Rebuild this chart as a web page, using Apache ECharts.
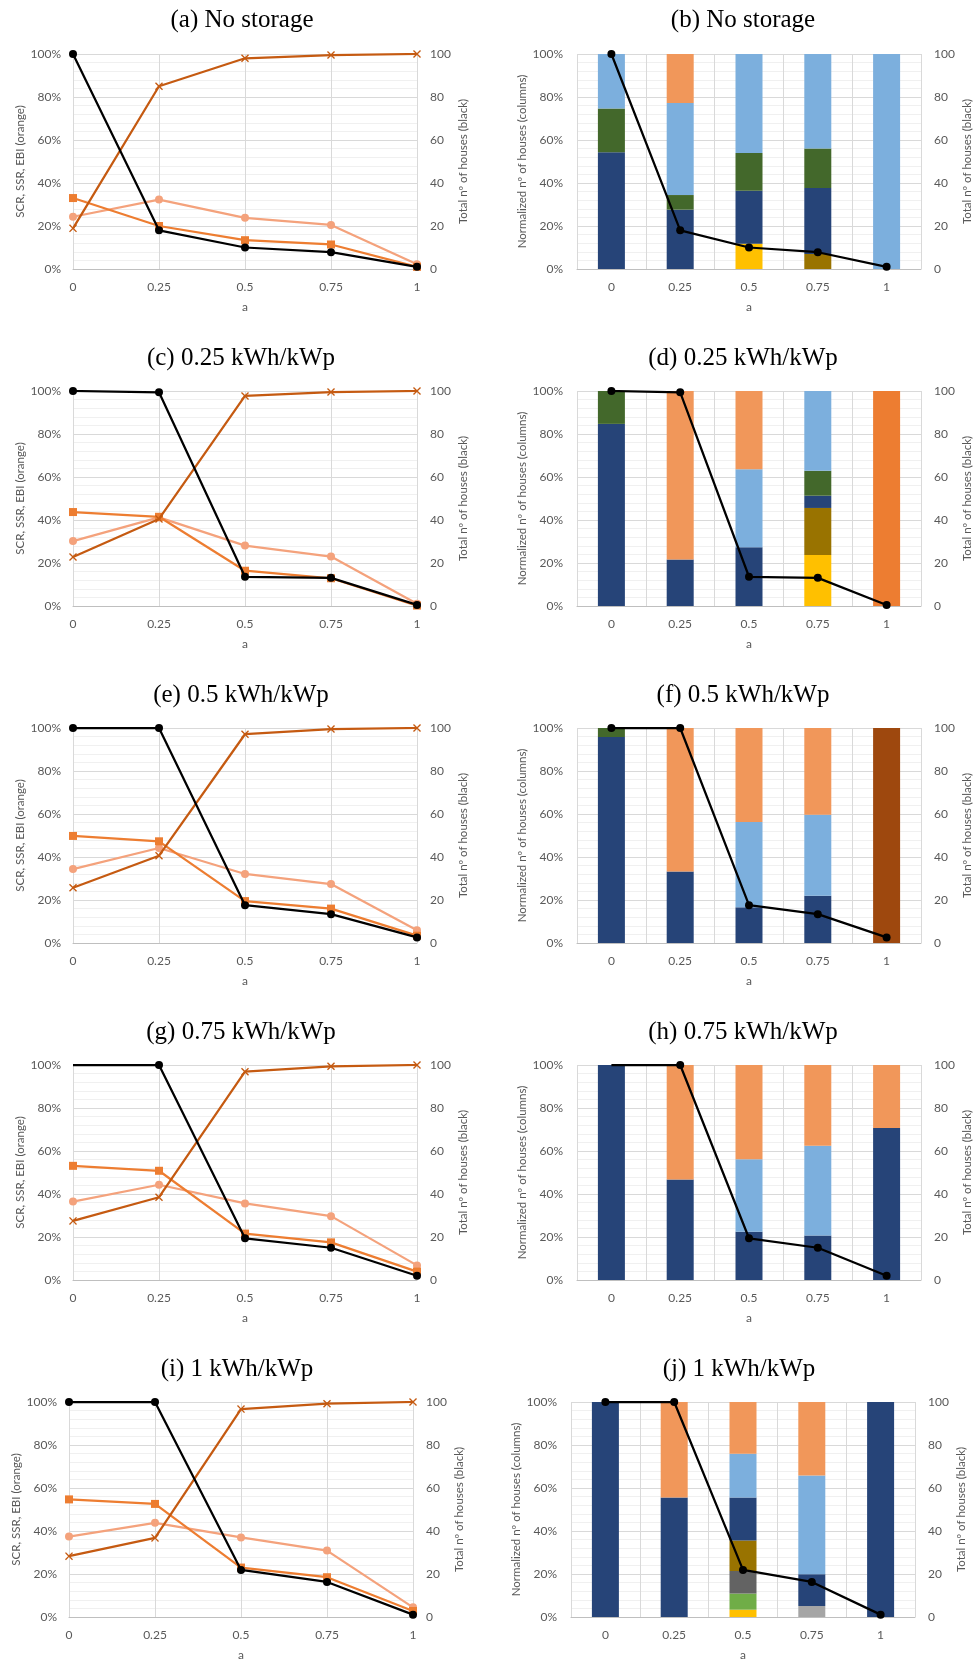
<!DOCTYPE html>
<html><head><meta charset="utf-8">
<script src="https://cdn.jsdelivr.net/npm/echarts@6/dist/echarts.min.js"></script>
<style>html,body{margin:0;padding:0;background:#fff}#c{width:975px;height:1662px}</style>
</head><body><div id="c"></div><script>
// ---------- DATA ----------
const categories = ['0', '0.25', '0.5', '0.75', '1'];
const titlesLeft = ['(a) No storage', '(c) 0.25 kWh/kWp', '(e) 0.5 kWh/kWp', '(g) 0.75 kWh/kWp', '(i) 1 kWh/kWp'];
const titlesRight = ['(b) No storage', '(d) 0.25 kWh/kWp', '(f) 0.5 kWh/kWp', '(h) 0.75 kWh/kWp', '(j) 1 kWh/kWp'];

// Total nº of houses (black line), per storage level
const housesNone = [100, 18, 10, 7.8, 1];
const houses025 = [100, 99.4, 13.6, 13.1, 0.5];
const houses05 = [100, 100, 17.6, 13.4, 2.6];
const houses075 = [100, 100, 19.4, 15, 2];
const houses1 = [100, 100, 21.9, 16.3, 1.1];

// SCR (square markers), %
const scrNone = [33, 20, 13.4, 11.4, 1];
const scr025 = [43.7, 41.5, 16.4, 12.9, 0.2];
const scr05 = [49.8, 47.3, 19.5, 16, 3.4];
const scr075 = [53.1, 50.8, 21.6, 17.5, 3.9];
const scr1 = [54.7, 52.6, 23, 18.5, 2.8];

// SSR (light circle markers), %
const ssrNone = [24.3, 32.3, 23.8, 20.5, 2.2];
const ssr025 = [30.2, 41.2, 28.1, 23, 1];
const ssr05 = [34.4, 44.2, 32.1, 27.4, 5.9];
const ssr075 = [36.5, 44.3, 35.6, 29.7, 6.8];
const ssr1 = [37.4, 43.8, 37, 30.9, 4.5];

// EBI (cross markers), %
const ebiNone = [18.9, 85, 98, 99.5, 100];
const ebi025 = [22.8, 40.5, 97.7, 99.5, 100];
const ebi05 = [25.7, 40.6, 97.1, 99.5, 100];
const ebi075 = [27.5, 38.5, 96.9, 99.4, 100];
const ebi1 = [28.3, 36.8, 96.7, 99.2, 100];

// Normalized nº of houses (stacked columns), % per group
const zeros = [0, 0, 0, 0, 0];
// (b) No storage
const bYellow = [0, 0, 11.8, 0, 0];
const bBrown = [0, 0, 0, 7, 0];
const bNavy = [54.3, 27.6, 24.6, 30.7, 0];
const bDarkGreen = [20.4, 6.8, 17.6, 18.3, 0];
const bLightBlue = [25.3, 42.8, 46, 44, 100];
const bLightOrange = [0, 22.8, 0, 0, 0];
// (d) 0.25
const dYellow = [0, 0, 0, 23.7, 0];
const dBrown = [0, 0, 0, 21.9, 0];
const dNavy = [84.7, 21.6, 27.3, 5.7, 0];
const dDarkGreen = [15.3, 0, 0, 11.6, 0];
const dLightBlue = [0, 0, 36.3, 37.1, 0];
const dLightOrange = [0, 78.4, 36.4, 0, 0];
const dOrange = [0, 0, 0, 0, 100];
// (f) 0.5
const fNavy = [95.8, 33.2, 16.6, 22, 0];
const fDarkGreen = [4.2, 0, 0, 0, 0];
const fLightBlue = [0, 0, 39.7, 37.7, 0];
const fLightOrange = [0, 66.8, 43.7, 40.3, 0];
const fRust = [0, 0, 0, 0, 100];
// (h) 0.75
const hNavy = [100, 46.7, 22.4, 20.7, 70.7];
const hLightBlue = [0, 0, 33.8, 41.7, 0];
const hLightOrange = [0, 53.3, 43.8, 37.6, 29.3];
// (j) 1
const jLightGray = [0, 0, 0, 5.1, 0];
const jYellow = [0, 0, 3.4, 0, 0];
const jGreen = [0, 0, 7.5, 0, 0];
const jDarkGray = [0, 0, 10.5, 0, 0];
const jBrown = [0, 0, 14.2, 0, 0];
const jNavy = [100, 55.6, 20, 14.8, 100];
const jLightBlue = [0, 0, 20.3, 45.9, 0];
const jLightOrange = [0, 44.4, 24.1, 34.2, 0];

// ---------- ASSEMBLY ----------
const groupNames = ['Group 1','Group 2','Group 3','Group 4','Group 5','Group 6','Group 7','Group 8','Group 9','Group 10','Group 11'];
const groupColors = ['#A5A5A5','#FFC000','#70AD47','#636363','#997300','#264478','#43682B','#7CAFDD','#F1975A','#ED7D31','#9E480E'];
// stacks bottom->top in group order
const barPanels = [
  [zeros, bYellow, zeros, zeros, bBrown, bNavy, bDarkGreen, bLightBlue, bLightOrange, zeros, zeros],
  [zeros, dYellow, zeros, zeros, dBrown, dNavy, dDarkGreen, dLightBlue, dLightOrange, dOrange, zeros],
  [zeros, zeros, zeros, zeros, zeros, fNavy, fDarkGreen, fLightBlue, fLightOrange, zeros, fRust],
  [zeros, zeros, zeros, zeros, zeros, hNavy, zeros, hLightBlue, hLightOrange, zeros, zeros],
  [jLightGray, jYellow, jGreen, jDarkGray, jBrown, jNavy, zeros, jLightBlue, jLightOrange, zeros, zeros]
];
const housesAll = [housesNone, houses025, houses05, houses075, houses1];
const scrAll = [scrNone, scr025, scr05, scr075, scr1];
const ssrAll = [ssrNone, ssr025, ssr05, ssr075, ssr1];
const ebiAll = [ebiNone, ebi025, ebi05, ebi075, ebi1];
// in the 0.75 kWh/kWp panels the first black marker is not drawn
const hideFirstMarker = [false, false, false, true, false];

const FONT = 'Lato';
const LBL = '#595959';
const leftLayout = [[73,54],[73,391],[73,728],[73,1065],[69,1402]];
const rightLayout = [[577,54],[577,391],[577,728],[577,1065],[571,1402]];
const titleLeftPos = [[242,20],[241,358],[241,695],[241,1032],[237,1369]];
const titleRightPos = [[743,20],[743,358],[743,695],[743,1032],[739,1369]];
const W = 344, H = 215;

const grids = [], xAxes = [], yAxes = [], series = [], graphics = [];
const crossPath = 'path://M0,1.2L1.2,0L5,3.8L8.8,0L10,1.2L6.2,5L10,8.8L8.8,10L5,6.2L1.2,10L0,8.8L3.8,5Z';

function addPanel(pos, isBar, leftName, lblMargin, nameGapL) {
  const gi = grids.length;
  grids.push({left: pos[0], top: pos[1], width: W, height: H, containLabel: false});
  xAxes.push({
    gridIndex: gi, type: 'category', data: categories, boundaryGap: isBar,
    axisLine: {lineStyle: {color: '#BFBFBF', width: 1}}, axisTick: {show: false},
    axisLabel: {color: LBL, fontFamily: FONT, fontSize: 12, margin: 12},
    splitLine: {show: true, lineStyle: {color: '#D9D9D9', width: 1}},
    name: 'a', nameLocation: 'middle', nameGap: 32,
    nameTextStyle: {color: LBL, fontFamily: FONT, fontSize: 12}
  });
  yAxes.push({
    gridIndex: gi, type: 'value', min: 0, max: 100, interval: 20, position: 'left',
    axisLine: {show: false}, axisTick: {show: false},
    axisLabel: {color: LBL, fontFamily: FONT, fontSize: 12, margin: lblMargin, formatter: '{value}%'},
    splitLine: {show: true, lineStyle: {color: '#D9D9D9', width: 1}},
    minorTick: {show: false, splitNumber: 5},
    minorSplitLine: {show: true, lineStyle: {color: '#F0F0F0', width: 1}},
    name: leftName, nameLocation: 'middle', nameGap: nameGapL, nameRotate: 90,
    nameTextStyle: {color: LBL, fontFamily: FONT, fontSize: 11.5}
  });
  yAxes.push({
    gridIndex: gi, type: 'value', min: 0, max: 100, interval: 20, position: 'right',
    axisLine: {show: false}, axisTick: {show: false},
    axisLabel: {color: LBL, fontFamily: FONT, fontSize: 12, margin: 13},
    splitLine: {show: false},
    name: 'Total nº of houses (black)', nameLocation: 'middle', nameGap: 40, nameRotate: 90,
    nameTextStyle: {color: LBL, fontFamily: FONT, fontSize: 11.5}
  });
  return gi;
}

function blackLine(gi, k) {
  return {
    type: 'line', name: 'Total nº of houses', xAxisIndex: gi, yAxisIndex: 2 * gi + 1, data: housesAll[k],
    symbol: 'circle',
    symbolSize: (v, p) => (hideFirstMarker[k] && p.dataIndex === 0) ? 0 : 8,
    itemStyle: {color: '#000'}, lineStyle: {color: '#000', width: 2.25},
    z: 5, animation: false
  };
}

for (let k = 0; k < 5; k++) {
  // line panel
  let gi = addPanel(leftLayout[k], false, 'SCR, SSR, EBI (orange)', 12, 46);
  series.push({type: 'line', name: 'SSR', xAxisIndex: gi, yAxisIndex: 2 * gi, data: ssrAll[k],
    symbol: 'circle', symbolSize: 8, itemStyle: {color: '#F4A27C'}, lineStyle: {color: '#F4A27C', width: 2.25}, z: 2, animation: false});
  series.push({type: 'line', name: 'SCR', xAxisIndex: gi, yAxisIndex: 2 * gi, data: scrAll[k],
    symbol: 'rect', symbolSize: 8, itemStyle: {color: '#ED7D31'}, lineStyle: {color: '#ED7D31', width: 2.25}, z: 3, animation: false});
  series.push({type: 'line', name: 'EBI', xAxisIndex: gi, yAxisIndex: 2 * gi, data: ebiAll[k],
    symbol: crossPath, symbolSize: 8, itemStyle: {color: '#C55A11'}, lineStyle: {color: '#C55A11', width: 2.25}, z: 4, animation: false});
  series.push(blackLine(gi, k));
  graphics.push({type: 'text', x: titleLeftPos[k][0], y: titleLeftPos[k][1],
    style: {text: titlesLeft[k], font: '25px "Liberation Serif"', fill: '#000', align: 'center', verticalAlign: 'middle'}});

  // bar panel
  gi = addPanel(rightLayout[k], true, 'Normalized nº of houses (columns)', 14, 48);
  barPanels[k].forEach((vals, g) => {
    series.push({type: 'bar', name: groupNames[g], xAxisIndex: gi, yAxisIndex: 2 * gi, stack: 'p' + k, data: vals,
      barWidth: 27, itemStyle: {color: groupColors[g]}, animation: false});
  });
  series.push(blackLine(gi, k));
  graphics.push({type: 'text', x: titleRightPos[k][0], y: titleRightPos[k][1],
    style: {text: titlesRight[k], font: '25px "Liberation Serif"', fill: '#000', align: 'center', verticalAlign: 'middle'}});
}

const chart = echarts.init(document.getElementById('c'), null, {renderer: 'canvas'});
chart.setOption({
  backgroundColor: '#fff', animation: false,
  grid: grids, xAxis: xAxes, yAxis: yAxes, series: series, graphic: graphics
});
</script></body></html>
